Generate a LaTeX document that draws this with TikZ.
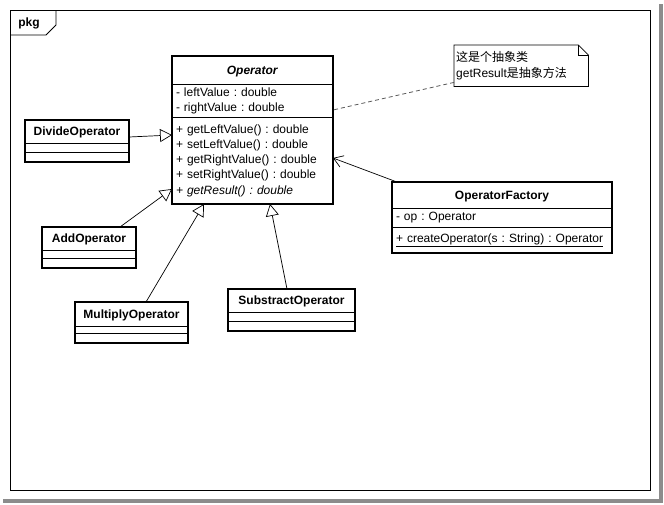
\documentclass[tikz,border=0pt]{standalone}
\usepackage{fontspec}
\setmainfont{Liberation Sans}
\newfontfamily\cjk{Noto Sans CJK SC}
\newcommand\umlfont{\fontsize{12}{15.2}\selectfont\frenchspacing}
\usetikzlibrary{arrows.meta,positioning}

\begin{document}
\begin{tikzpicture}[x=1pt,y=-1pt,node distance=0pt,
  clsname/.style={draw, line width=0.8pt, outer sep=0pt, inner sep=0pt,
                  anchor=north west, minimum width=#1, text height=8.6pt,
                  text depth=0pt, font=\umlfont\bfseries},
  clspart/.style={draw, line width=0.8pt, outer sep=0pt, inner xsep=4pt,
                  inner ysep=0pt, text width=#1, align=left, font=\umlfont},
  clsempty/.style={draw, line width=0.8pt, outer sep=0pt, inner sep=0pt,
                   minimum width=#1},
  clsborder/.style={draw, line width=1.8pt},
  gen/.style={-{Triangle[length=12pt,width=13pt,fill=white]}, line width=0.7pt},
  assoc/.style={-{Straight Barb[length=9pt,width=12pt]}, line width=0.7pt},
  anchorline/.style={dash pattern=on 4pt off 3pt, draw=black!65, line width=0.8pt}
]
  % page and shadow
  \fill[white] (0,0) rectangle (664,504);
  \useasboundingbox (0,0) rectangle (664,504);
  \fill[black!45] (659,4) rectangle (663,503);
  \fill[black!45] (3,499) rectangle (663,503);

  % package frame
  \draw[line width=0.8pt] (10,10) rectangle (650,490);
  \draw[line width=0.8pt] (10,35) -- (46,35) -- (56,25) -- (56,10);
  \node[font=\umlfont\bfseries] (pkg) at (29,23) {pkg};

  % Operator
  \node[clsname=161pt, minimum height=28pt] (op) at (172,56) {\textit{Operator}};
  \node[clspart=153pt, minimum height=33pt, below=of op] (opattr)
    {- leftValue : double\\- rightValue : double};
  \node[clspart=153pt, minimum height=87pt, below=of opattr] (opmeth)
    {+ getLeftValue() : double\\
     + setLeftValue() : double\\
     + getRightValue() : double\\
     + setRightValue() : double\\
     \textit{+ getResult() : double}};
  \draw[clsborder] (op.north west) rectangle (opmeth.south east);

  % DivideOperator
  \node[clsname=104pt, minimum height=23pt] (div) at (25,120) {DivideOperator};
  \node[clsempty=104pt, minimum height=9pt, below=of div] (divattr) {};
  \node[clsempty=104pt, minimum height=10pt, below=of divattr] (divmeth) {};
  \draw[clsborder] (div.north west) rectangle (divmeth.south east);

  % AddOperator
  \node[clsname=94pt, minimum height=23pt] (add) at (42,227) {AddOperator};
  \node[clsempty=94pt, minimum height=8pt, below=of add] (addattr) {};
  \node[clsempty=94pt, minimum height=10pt, below=of addattr] (addmeth) {};
  \draw[clsborder] (add.north west) rectangle (addmeth.south east);

  % MultiplyOperator
  \node[clsname=113pt, minimum height=24pt] (mul) at (75,302) {MultiplyOperator};
  \node[clsempty=113pt, minimum height=7pt, below=of mul] (mulattr) {};
  \node[clsempty=113pt, minimum height=10pt, below=of mulattr] (mulmeth) {};
  \draw[clsborder] (mul.north west) rectangle (mulmeth.south east);

  % SubstractOperator
  \node[clsname=127pt, minimum height=23pt] (sub) at (228,289) {SubstractOperator};
  \node[clsempty=127pt, minimum height=9pt, below=of sub] (subattr) {};
  \node[clsempty=127pt, minimum height=10pt, below=of subattr] (submeth) {};
  \draw[clsborder] (sub.north west) rectangle (submeth.south east);

  % OperatorFactory
  \node[clsname=220pt, minimum height=26pt] (fac) at (392,182) {OperatorFactory};
  \node[clspart=212pt, minimum height=19pt, below=of fac] (facattr) {- op : Operator};
  \node[clspart=212pt, minimum height=26pt, below=of facattr] (facmeth)
    {\underline{+ createOperator(s : String) : Operator}};
  \draw[clsborder] (fac.north west) rectangle (facmeth.south east);

  % note
  \node[anchor=north west, minimum width=134pt, minimum height=41pt,
        text width=130pt, inner xsep=2pt, inner ysep=0pt, align=left,
        font=\umlfont] (note) at (454,45)
    {{\cjk 这是个抽象类}\\getResult{\cjk 是抽象方法}};
  \draw[line width=0.8pt] (note.north west) -- ([xshift=-10pt]note.north east)
    -- ([yshift=-10pt]note.north east) -- (note.south east)
    -- (note.south west) -- cycle;
  \draw[line width=0.6pt] ([xshift=-10pt]note.north east) |- ([yshift=-10pt]note.north east);

  % relations
  \draw[gen] ([yshift=-5.5pt]div.east) -- ([yshift=-18pt]opmeth.north west);
  \draw[gen] ([xshift=-16pt]add.north east) -- ([yshift=15pt]opmeth.south west);
  \draw[gen] ([xshift=14.5pt]mul.north) -- ([xshift=32pt]opmeth.south west);
  \draw[gen] ([xshift=-4.5pt]sub.north) -- ([xshift=98pt]opmeth.south west);
  \draw[assoc] ([xshift=5pt]fac.north west) -- ([yshift=2.5pt]opmeth.east);
  \draw[anchorline] ([yshift=4pt]note.south west) -- ([yshift=-9.5pt]opattr.east);
\end{tikzpicture}
\end{document}
